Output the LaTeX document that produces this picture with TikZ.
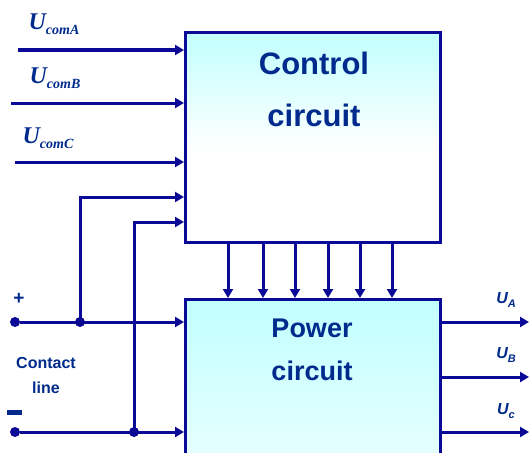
\documentclass[tikz,border=0pt]{standalone}
\usepackage{fontspec}
\setsansfont{Liberation Sans}
\newfontfamily\serifit{Liberation Serif}
\usetikzlibrary{arrows.meta,calc}
\definecolor{wirecol}{RGB}{10,10,150}
\definecolor{txtcol}{RGB}{0,42,140}
\pgfdeclareverticalshading{ctrlshade}{100bp}{color(0bp)=(white); color(25bp)=(white); color(47bp)=(white); color(75bp)=(cyan!24); color(100bp)=(cyan!24)}
\pgfdeclareverticalshading{powshade}{100bp}{color(0bp)=(cyan!8); color(25bp)=(cyan!8); color(75bp)=(cyan!24); color(100bp)=(cyan!24)}
\tikzset{
  wire/.style={draw=wirecol,line width=3pt},
  sig/.style={wire,-{Triangle[length=9pt,width=10pt]}},
  jdot/.style={circle,fill=wirecol,inner sep=0pt,minimum size=10pt},
  blockbox/.style={draw=wirecol,line width=3pt,shading=ctrlshade,
    inner sep=0pt,anchor=north west},
  blocktext/.style={text=txtcol,font=\sffamily\bfseries,align=center},
  inlbl/.style={text=txtcol,font=\serifit\bfseries\itshape\fontsize{24}{24}\selectfont,inner sep=0pt},
  outlbl/.style={text=txtcol,font=\sffamily\bfseries\itshape\fontsize{16}{16}\selectfont,inner sep=0pt}
}
\newcommand{\insub}[1]{\raisebox{-0.45ex}{\fontsize{14}{14}\selectfont #1}}
\newcommand{\outsub}[1]{\raisebox{-0.4ex}{\fontsize{11}{11}\selectfont #1}}

\begin{document}
\begin{tikzpicture}[x=1pt,y=-1pt]
  \useasboundingbox (0,0) rectangle (529,452);
  \clip (0,0) rectangle (529,452);
  % blocks
  \node[blockbox,minimum width=255pt,minimum height=210pt] (ctrl) at (184,31) {};
  \node[blockbox,shading=powshade,minimum width=255pt,minimum height=180pt] (power) at (184,298) {};
  \node[blocktext,font=\sffamily\bfseries\fontsize{31}{52}\selectfont] (ctrltxt) at (314,89) {Control\\circuit};
  \node[blocktext,font=\sffamily\bfseries\fontsize{27}{43}\selectfont] (powtxt) at (312,350) {Power\\circuit};
  % command inputs
  \coordinate (inA) at (18,50);
  \coordinate (inB) at (11,103);
  \coordinate (inC) at (15,162);
  \draw[sig] (inA) -- (inA -| ctrl.west);
  \draw[sig] (inB) -- (inB -| ctrl.west);
  \draw[sig] (inC) -- (inC -| ctrl.west);
  \node[inlbl] (lblA) at (54,24) {U\insub{comA}};
  \node[inlbl] (lblB) at (55,78) {U\insub{comB}};
  \node[inlbl] (lblC) at (48,138) {U\insub{comC}};
  % contact line
  \node[jdot] (plus) at (15,322) {};
  \node[jdot] (minus) at (15,432) {};
  \node[jdot] (jplus) at (80,322) {};
  \node[jdot] (jminus) at (134,432) {};
  \coordinate (fbA) at (80,197);
  \coordinate (fbB) at (134,222);
  \draw[sig] (plus) -- (plus -| power.west);
  \draw[sig] (minus) -- (minus -| power.west);
  \draw[sig] (jplus.center) -- (fbA) -- (fbA -| ctrl.west);
  \draw[sig] (jminus.center) -- (fbB) -- (fbB -| ctrl.west);
  \node[text=txtcol,font=\sffamily\bfseries\fontsize{19}{19}\selectfont] (plussign) at (19,299) {+};
  \fill[txtcol] (7,410) rectangle (22,414.5);
  \node[blocktext,font=\sffamily\bfseries\fontsize{16}{25}\selectfont] (contact) at (46,375) {Contact\\line};
  % control to power
  \foreach \gx in {228,263,295,328,360,392}
    \draw[sig] (\gx,241) -- (\gx,298);
  % outputs
  \coordinate (outA) at (529,322);
  \coordinate (outB) at (529,377);
  \coordinate (outC) at (529,432);
  \draw[sig] (outA -| power.east) -- (outA);
  \draw[sig] (outB -| power.east) -- (outB);
  \draw[sig] (outC -| power.east) -- (outC);
  \node[outlbl] (lblUA) at (506,300) {U\outsub{A}};
  \node[outlbl] (lblUB) at (506,355) {U\outsub{B}};
  \node[outlbl] (lblUC) at (506,411) {U\outsub{c}};
\end{tikzpicture}
\end{document}
